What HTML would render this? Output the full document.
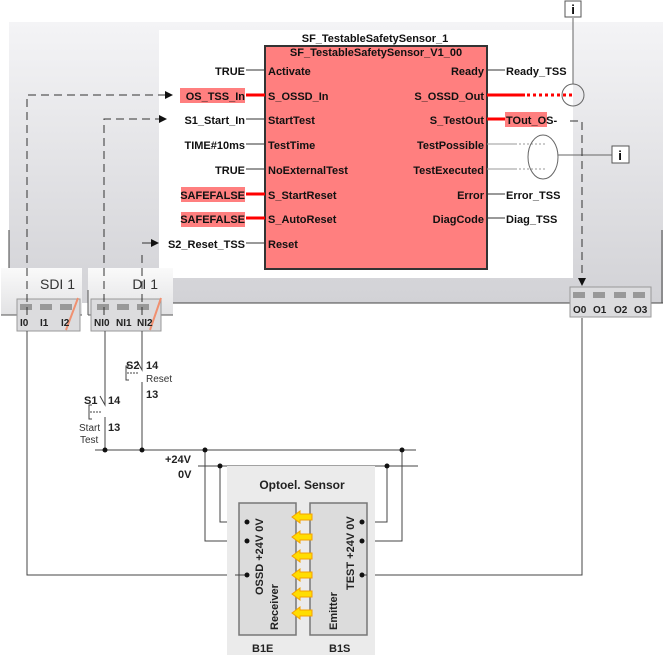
<!DOCTYPE html>
<html><head><meta charset="utf-8"><style>
html,body{margin:0;padding:0;background:#fff;}
svg{display:block;}
text{font-family:"Liberation Sans",sans-serif;}
.b{font-weight:bold;font-size:11px;fill:#111;}
</style></head><body>
<svg width="663" height="655" viewBox="0 0 663 655" xmlns="http://www.w3.org/2000/svg">
<defs>
<linearGradient id="g1" x1="0" y1="0" x2="0" y2="1"><stop offset="0" stop-color="#f4f4f6"/><stop offset="1" stop-color="#d2d2d6"/></linearGradient>
<linearGradient id="g2" x1="0" y1="0" x2="0" y2="1"><stop offset="0" stop-color="#fafafa"/><stop offset="1" stop-color="#e2e2e4"/></linearGradient>
<marker id="ar" markerWidth="8" markerHeight="8" refX="7" refY="4" orient="auto" markerUnits="userSpaceOnUse"><path d="M0,0 L8,4 L0,8z" fill="#111"/></marker>
</defs>
<rect x="9" y="22" width="654" height="281" fill="url(#g1)"/>
<rect x="159" y="30" width="414" height="248" fill="#fff"/>
<line x1="9" y1="230" x2="9" y2="315" stroke="#444"/>
<line x1="662" y1="230" x2="662" y2="303" stroke="#444"/>
<line x1="170" y1="303" x2="663" y2="303" stroke="#444"/>
<rect x="1" y="268" width="81" height="47" fill="url(#g2)"/>
<rect x="88" y="268" width="85" height="47" fill="url(#g2)"/>
<line x1="1" y1="315" x2="82" y2="315" stroke="#555"/>
<line x1="88" y1="315" x2="173" y2="315" stroke="#555"/>
<line x1="88" y1="290" x2="88" y2="315" stroke="#555"/>
<text x="75" y="289" font-size="14" text-anchor="end" fill="#333">SDI 1</text>
<text x="158" y="289" font-size="14" text-anchor="end" fill="#333">DI 1</text>
<g>
<rect x="17" y="299" width="63" height="32" fill="#dcdcde" stroke="#999"/>
<rect x="20" y="304" width="12" height="6" fill="#999"/><rect x="40" y="304" width="12" height="6" fill="#999"/><rect x="60" y="304" width="12" height="6" fill="#999"/>
<line x1="66" y1="330" x2="78" y2="298" stroke="#f09070" stroke-width="2"/>
<text x="20" y="326" font-size="10" font-weight="bold" fill="#222">I0</text><text x="40" y="326" font-size="10" font-weight="bold" fill="#222">I1</text><text x="61" y="326" font-size="10" font-weight="bold" fill="#222">I2</text>
<rect x="91" y="299" width="70" height="32" fill="#dcdcde" stroke="#999"/>
<rect x="97" y="304" width="12" height="6" fill="#999"/><rect x="117" y="304" width="12" height="6" fill="#999"/><rect x="137" y="304" width="12" height="6" fill="#999"/>
<line x1="150" y1="330" x2="161" y2="298" stroke="#f09070" stroke-width="2"/>
<text x="94" y="326" font-size="10" font-weight="bold" fill="#222">NI0</text><text x="116" y="326" font-size="10" font-weight="bold" fill="#222">NI1</text><text x="137" y="326" font-size="10" font-weight="bold" fill="#222">NI2</text>
<rect x="570" y="287" width="81" height="30" fill="#dcdcde" stroke="#999"/>
<rect x="573" y="292" width="12" height="6" fill="#999"/><rect x="593" y="292" width="12" height="6" fill="#999"/><rect x="614" y="292" width="12" height="6" fill="#999"/><rect x="633" y="292" width="12" height="6" fill="#999"/>
<text x="573" y="313" font-size="10" font-weight="bold" fill="#222">O0</text><text x="593" y="313" font-size="10" font-weight="bold" fill="#222">O1</text><text x="614" y="313" font-size="10" font-weight="bold" fill="#222">O2</text><text x="634" y="313" font-size="10" font-weight="bold" fill="#222">O3</text>
</g>
<text x="375" y="42" class="b" text-anchor="middle">SF_TestableSafetySensor_1</text>
<rect x="265" y="46" width="222" height="223" fill="#ff7f7f" stroke="#333" stroke-width="2"/>
<text x="376" y="56" class="b" text-anchor="middle">SF_TestableSafetySensor_V1_00</text>
<rect x="180" y="88" width="65" height="15" fill="#ff7f7f"/>
<rect x="181" y="187" width="64" height="15" fill="#ff7f7f"/>
<rect x="181" y="212" width="64" height="15" fill="#ff7f7f"/>
<rect x="505" y="112" width="42" height="15" fill="#ff7f7f"/>
<g class="b">
<text x="245" y="75" text-anchor="end">TRUE</text>
<text x="245" y="100" text-anchor="end">OS_TSS_In</text>
<text x="245" y="124" text-anchor="end">S1_Start_In</text>
<text x="245" y="149" text-anchor="end">TIME#10ms</text>
<text x="245" y="174" text-anchor="end">TRUE</text>
<text x="245" y="199" text-anchor="end">SAFEFALSE</text>
<text x="245" y="223" text-anchor="end">SAFEFALSE</text>
<text x="245" y="248" text-anchor="end">S2_Reset_TSS</text>
<text x="268" y="75">Activate</text>
<text x="268" y="100">S_OSSD_In</text>
<text x="268" y="124">StartTest</text>
<text x="268" y="149">TestTime</text>
<text x="268" y="174">NoExternalTest</text>
<text x="268" y="199">S_StartReset</text>
<text x="268" y="223">S_AutoReset</text>
<text x="268" y="248">Reset</text>
<text x="484" y="75" text-anchor="end">Ready</text>
<text x="484" y="100" text-anchor="end">S_OSSD_Out</text>
<text x="484" y="124" text-anchor="end">S_TestOut</text>
<text x="484" y="149" text-anchor="end">TestPossible</text>
<text x="484" y="174" text-anchor="end">TestExecuted</text>
<text x="484" y="199" text-anchor="end">Error</text>
<text x="484" y="223" text-anchor="end">DiagCode</text>
<text x="506" y="75">Ready_TSS</text>
<text x="506" y="124">TOut_OS-</text>
<text x="506" y="199">Error_TSS</text>
<text x="506" y="223">Diag_TSS</text>
</g>
<g stroke="#333" stroke-width="1">
<line x1="246" y1="70" x2="265" y2="70"/><line x1="246" y1="119" x2="265" y2="119"/><line x1="246" y1="144" x2="265" y2="144"/><line x1="246" y1="169" x2="265" y2="169"/><line x1="246" y1="243" x2="265" y2="243"/>
<line x1="487" y1="70" x2="505" y2="70"/><line x1="487" y1="194" x2="505" y2="194"/><line x1="487" y1="218" x2="505" y2="218"/>
</g>
<g stroke="#999"><line x1="487" y1="144" x2="515" y2="144"/><line x1="487" y1="169" x2="515" y2="169"/>
<line x1="515" y1="144" x2="545" y2="144" stroke-dasharray="2,2"/><line x1="515" y1="169" x2="545" y2="169" stroke-dasharray="2,2"/></g>
<g stroke="#f00" stroke-width="3"><line x1="246" y1="95" x2="265" y2="95"/><line x1="246" y1="194" x2="265" y2="194"/><line x1="246" y1="218" x2="265" y2="218"/><line x1="487" y1="95" x2="525" y2="95"/><line x1="487" y1="119" x2="505" y2="119"/>
<line x1="527" y1="95" x2="573" y2="95" stroke-dasharray="3,3"/></g>
<line x1="573" y1="18" x2="573" y2="84" stroke="#666"/>
<circle cx="573" cy="95" r="11" fill="none" stroke="#666"/>
<rect x="565" y="1" width="16" height="16" fill="#fff" stroke="#555"/><text x="573" y="14" font-size="13" font-weight="bold" font-family="Liberation Serif" text-anchor="middle">i</text>
<ellipse cx="543" cy="157" rx="15" ry="22" fill="none" stroke="#666"/>
<line x1="558" y1="155" x2="612" y2="155" stroke="#666"/>
<rect x="612" y="146" width="17" height="17" fill="#fff" stroke="#555"/><text x="620" y="160" font-size="13" font-weight="bold" font-family="Liberation Serif" text-anchor="middle">i</text>
<g stroke="#333" fill="none" stroke-dasharray="8,5">
<path d="M27,315 V95 H172" marker-end="url(#ar)"/>
<path d="M104,315 V119 H166" marker-end="url(#ar)"/>
<path d="M142,315 V250"/>
<path d="M570,121 H582 V285" marker-end="url(#ar)"/>
</g>
<path d="M142,243 H158" stroke="#333" marker-end="url(#ar)"/>
<g stroke="#444" fill="none">
<path d="M27,331 V575 H235"/>
<path d="M582,318 V575 H365"/>
<path d="M105,331 V405 L100,396 M105,417 V450"/>
<path d="M142,331 V370 L137,361 M142,382 V450"/>
<path d="M95,450 H416"/>
<path d="M198,466 H418"/>
<path d="M205,450 V541 H247"/>
<path d="M220,466 V522 H247"/>
<path d="M387,466 V522 H362"/>
<path d="M402,450 V541 H362"/>
<path d="M92,405 H89 V419 H92"/>
<path d="M129,366 H126 V380 H129"/>
<path d="M90,412 H101 M127,373 H138" stroke-dasharray="2,1"/>
</g>
<g fill="#111">
<circle cx="105" cy="450" r="2.5"/><circle cx="142" cy="450" r="2.5"/><circle cx="205" cy="450" r="2.5"/><circle cx="402" cy="450" r="2.5"/>
<circle cx="220" cy="466" r="2.5"/><circle cx="387" cy="466" r="2.5"/>
</g>
<g font-size="11" font-weight="bold" fill="#222">
<text x="84" y="404">S1</text><text x="108" y="404">14</text><text x="108" y="431">13</text>
<text x="126" y="369">S2</text><text x="146" y="369">14</text><text x="146" y="398">13</text>
<text x="165" y="463">+24V</text><text x="178" y="478">0V</text>
</g>
<g font-size="10" fill="#333"><text x="146" y="382">Reset</text><text x="79" y="431">Start</text><text x="80" y="443">Test</text></g>
<rect x="227" y="466" width="148" height="189" fill="#ebebeb"/>
<text x="302" y="489" font-size="12" font-weight="bold" text-anchor="middle" fill="#222">Optoel. Sensor</text>
<rect x="239" y="503" width="57" height="132" fill="#dcdcdc" stroke="#777" stroke-width="1.5"/>
<rect x="310" y="503" width="57" height="132" fill="#dcdcdc" stroke="#777" stroke-width="1.5"/>
<g stroke="#444"><line x1="235" y1="575" x2="247" y2="575"/><line x1="362" y1="575" x2="367" y2="575"/></g>
<g fill="#111"><circle cx="247" cy="522" r="2.5"/><circle cx="247" cy="541" r="2.5"/><circle cx="247" cy="575" r="2.5"/><circle cx="362" cy="522" r="2.5"/><circle cx="362" cy="541" r="2.5"/><circle cx="362" cy="575" r="2.5"/></g>
<g font-size="11" font-weight="bold" fill="#222">
<text transform="translate(263,595) rotate(-90)">OSSD  +24V  0V</text>
<text transform="translate(354,590) rotate(-90)">TEST +24V  0V</text>
<text transform="translate(278,630) rotate(-90)">Receiver</text>
<text transform="translate(337,630) rotate(-90)">Emitter</text>
<text x="252" y="652">B1E</text><text x="329" y="652">B1S</text>
</g>
<g fill="#ffdd00" stroke="#f5a000" stroke-width="1">
<path d="M292,517 l8,-6 v3 h12 v6 h-12 v3z"/>
<path d="M292,537 l8,-6 v3 h12 v6 h-12 v3z"/>
<path d="M292,556 l8,-6 v3 h12 v6 h-12 v3z"/>
<path d="M292,575 l8,-6 v3 h12 v6 h-12 v3z"/>
<path d="M292,594 l8,-6 v3 h12 v6 h-12 v3z"/>
<path d="M292,613 l8,-6 v3 h12 v6 h-12 v3z"/>
</g>
</svg>
</body></html>
